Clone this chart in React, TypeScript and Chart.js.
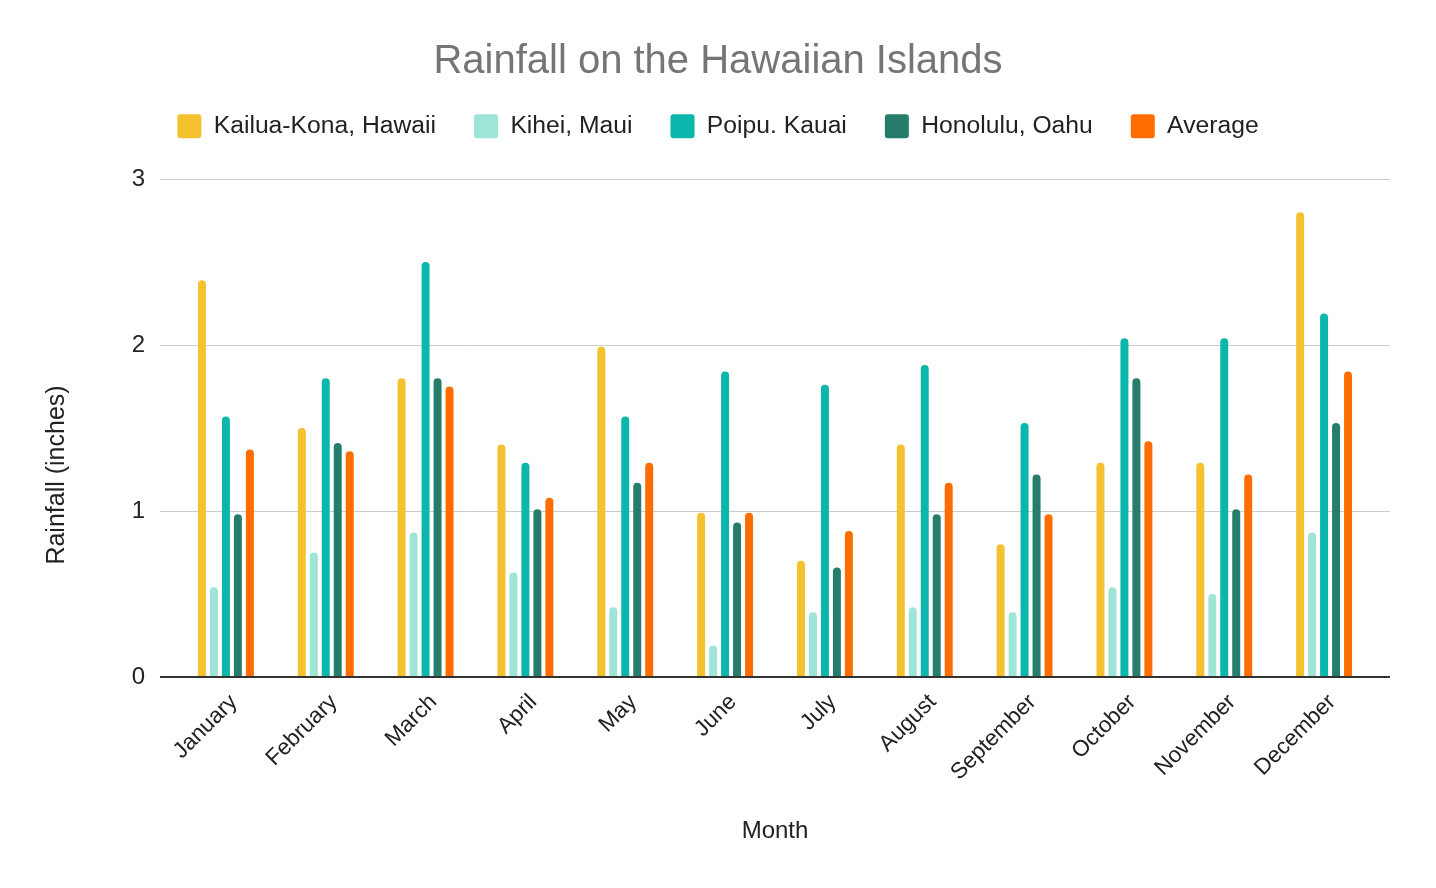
import React, { useEffect, useRef } from "react";
import { Chart, registerables } from "chart.js";

Chart.register(...registerables);

const months = [
  "January", "February", "March", "April", "May", "June",
  "July", "August", "September", "October", "November", "December",
];
const kailuaKona = [2.39, 1.5, 1.8, 1.4, 1.99, 0.99, 0.7, 1.4, 0.8, 1.29, 1.29, 2.8];
const kiheiMaui = [0.54, 0.75, 0.87, 0.63, 0.42, 0.19, 0.39, 0.42, 0.39, 0.54, 0.5, 0.87];
const poipuKauai = [1.57, 1.8, 2.5, 1.29, 1.57, 1.84, 1.76, 1.88, 1.53, 2.04, 2.04, 2.19];
const honoluluOahu = [0.98, 1.41, 1.8, 1.01, 1.17, 0.93, 0.66, 0.98, 1.22, 1.8, 1.01, 1.53];
const average = [1.37, 1.36, 1.75, 1.08, 1.29, 0.99, 0.88, 1.17, 0.98, 1.42, 1.22, 1.84];
const yTickValues = [0, 1, 2, 3];

const seriesNames = ["Kailua-Kona, Hawaii", "Kihei, Maui", "Poipu. Kauai", "Honolulu, Oahu", "Average"];
const seriesColors = ["#F4C22F", "#9EE5D8", "#0BB7AD", "#267D6B", "#FF6D00"];

const FONT = "'Liberation Sans', Arial, sans-serif";

const extGridPlugin = {
  id: "extGrid",
  beforeDatasetsDraw(chart: any) {
    const { ctx, chartArea, scales } = chart;
    const y = scales.y;
    const left = chartArea.left - 16;
    const right = chartArea.right + 16;
    ctx.save();
    ctx.strokeStyle = "#cccccc";
    ctx.lineWidth = 1;
    yTickValues.forEach((v) => {
      if (v === 0) return;
      const py = Math.round(y.getPixelForValue(v)) + 0.5;
      ctx.beginPath();
      ctx.moveTo(left, py);
      ctx.lineTo(right, py);
      ctx.stroke();
    });
    ctx.restore();
  },
  afterDatasetsDraw(chart: any) {
    const { ctx, chartArea, scales } = chart;
    const y = scales.y;
    const py = Math.round(y.getPixelForValue(0));
    ctx.save();
    ctx.strokeStyle = "#333333";
    ctx.lineWidth = 2;
    ctx.beginPath();
    ctx.moveTo(chartArea.left - 16, py);
    ctx.lineTo(chartArea.right + 16, py);
    ctx.stroke();
    ctx.restore();
  },
  afterDraw(chart: any) {
    const { ctx } = chart;
    ctx.save();
    ctx.translate(57, 475);
    ctx.rotate(-Math.PI / 2);
    ctx.font = `25px ${FONT}`;
    ctx.fillStyle = "#222222";
    ctx.textAlign = "center";
    ctx.textBaseline = "middle";
    ctx.fillText("Rainfall (inches)", 0, 0);
    ctx.restore();
  },
};

export default function App() {
  const canvasRef = useRef<HTMLCanvasElement | null>(null);

  useEffect(() => {
    if (!canvasRef.current) return;
    const seriesData = [kailuaKona, kiheiMaui, poipuKauai, honoluluOahu, average];
    const chart = new Chart(canvasRef.current, {
      type: "bar",
      data: {
        labels: months,
        datasets: seriesData.map((d, i) => ({
          label: seriesNames[i],
          data: d,
          backgroundColor: seriesColors[i],
          borderColor: seriesColors[i],
          borderWidth: 0,
          borderRadius: { topLeft: 4, topRight: 4, bottomLeft: 0, bottomRight: 0 },
          borderSkipped: false,
          categoryPercentage: 0.6,
          barPercentage: 0.667,
          xAxisID: "x",
          yAxisID: "y",
        })),
      },
      options: {
        animation: false,
        responsive: true,
        maintainAspectRatio: false,
        layout: { padding: 0 },
        plugins: {
          title: {
            display: true,
            text: "Rainfall on the Hawaiian Islands",
            color: "#757575",
            font: { family: FONT, size: 40, weight: "normal", lineHeight: 0.7 },
            padding: { top: 48, bottom: 0 },
          },
          legend: {
            display: true,
            position: "top",
            labels: {
              color: "#222222",
              font: { family: FONT, size: 24.7 },
              boxWidth: 24,
              boxHeight: 24,
              padding: 38,
              useBorderRadius: true,
              borderRadius: 3,
            },
          },
          tooltip: { enabled: false },
        },
        scales: {
          x: {
            type: "category",
            position: "bottom",
            offset: true,
            grid: { display: false, drawTicks: false },
            border: { display: false },
            ticks: {
              color: "#222222",
              font: { family: FONT, size: 22.5 },
              minRotation: 45,
              maxRotation: 45,
              autoSkip: false,
              padding: 12,
              labelOffset: 8,
            },
            title: {
              display: true,
              text: "Month",
              color: "#222222",
              font: { family: FONT, size: 24 },
              padding: { top: 0, bottom: 42 },
            },
            afterFit: (s: any) => {
              s.height = 211;
            },
          },
          spacerTop: {
            type: "category",
            position: "top",
            display: true,
            grid: { display: false, drawTicks: false },
            border: { display: false },
            ticks: { display: false },
            afterFit: (s: any) => {
              s.height = 30.3;
            },
          },
          y: {
            type: "linear",
            position: "left",
            min: 0,
            max: 3,
            grid: { display: false, drawTicks: false },
            border: { display: false },
            ticks: {
              stepSize: 1,
              color: "#222222",
              font: { family: FONT, size: 24 },
              padding: 31,
            },
            afterFit: (s: any) => {
              s.width = 176;
            },
          },
          spacerRight: {
            type: "linear",
            position: "right",
            display: true,
            grid: { display: false, drawTicks: false },
            border: { display: false },
            ticks: { display: false },
            afterFit: (s: any) => {
              s.width = 62;
            },
          },
        },
      } as any,
      plugins: [extGridPlugin],
    });
    return () => chart.destroy();
  }, []);

  return (
    <div style={{ position: "fixed", left: 0, top: 0, width: 1436, height: 888, background: "#ffffff" }}>
      <canvas ref={canvasRef} />
    </div>
  );
}
